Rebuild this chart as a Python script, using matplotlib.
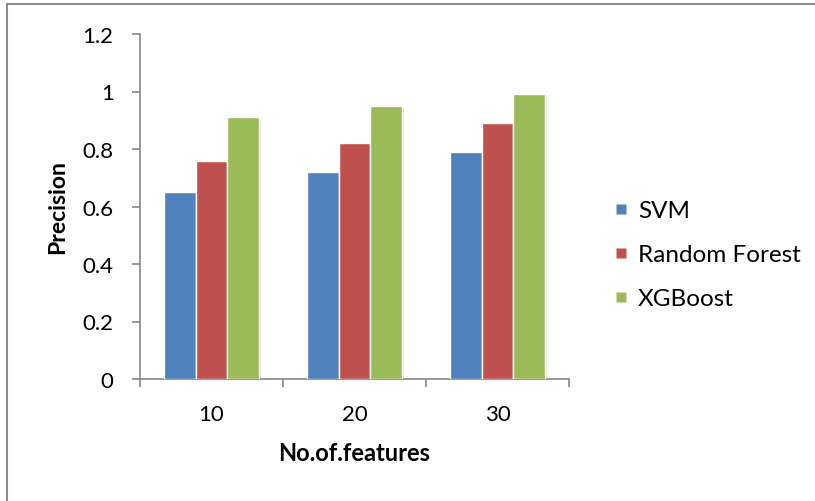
import numpy as np
import matplotlib.pyplot as plt
import matplotlib.patheffects as pe
from matplotlib.lines import Line2D

# --- Data ---
features = ["10", "20", "30"]
svm = [0.65, 0.72, 0.79]
random_forest = [0.76, 0.82, 0.89]
xgboost = [0.91, 0.95, 0.99]

series_names = ["SVM", "Random Forest", "XGBoost"]
colors = ["#4F81BD", "#C0504D", "#9BBB59"]

plt.rcParams["font.family"] = ["Lato", "DejaVu Sans"]

fig = plt.figure(figsize=(8.15, 5.02), dpi=100)
ax = fig.add_axes([140 / 815, 122 / 502, 429 / 815, 345 / 502])

# --- Grouped bars (gap width 150%) ---
x = np.arange(len(features))
width = 1 / 4.5
shadow = [pe.SimplePatchShadow(offset=(1.5, -1.5), shadow_rgbFace="#000000", alpha=0.12),
          pe.Normal()]
for i, (vals, name, c) in enumerate(zip([svm, random_forest, xgboost], series_names, colors)):
    bars = ax.bar(x + (i - 1) * width, vals, width, color=c, edgecolor="white",
                  linewidth=1.0, label=name, zorder=3)
    for b in bars:
        b.set_path_effects(shadow)

# --- Axes formatting ---
ax.set_xlim(-0.5, 2.5)
ax.set_ylim(0, 1.2)
ax.set_yticks([0, 0.2, 0.4, 0.6, 0.8, 1.0, 1.2])
ax.set_yticklabels(["0", "0.2", "0.4", "0.6", "0.8", "1", "1.2"])
ax.set_xticks(x)
ax.set_xticklabels(features)
ax.set_xticks([-0.5, 0.5, 1.5, 2.5], minor=True)
ax.tick_params(axis="x", which="major", length=0, pad=18, labelsize=16)
ax.tick_params(axis="x", which="minor", length=6, width=1.2, color="#868686", direction="out")
ax.tick_params(axis="y", length=6, width=1.2, color="#868686", pad=13, labelsize=16)

for side in ["top", "right"]:
    ax.spines[side].set_visible(False)
for side in ["left", "bottom"]:
    ax.spines[side].set_color("#868686")
    ax.spines[side].set_linewidth(1.2)

ax.set_ylabel("Precision", fontsize=16.5, fontweight="bold", labelpad=10)
ax.set_xlabel("No.of.features", fontsize=17, fontweight="bold", labelpad=12)

# --- Legend ---
handles = [Line2D([0], [0], marker="s", linestyle="none", markersize=7.5,
                  markerfacecolor=c, markeredgecolor="none") for c in colors]
fig.legend(handles, series_names, loc="upper left", bbox_to_anchor=(593 / 815, 1 - 184 / 502),
           frameon=False, fontsize=17.5, labelspacing=0.95, handletextpad=0.25,
           handlelength=0.9, borderpad=0.2)

# --- Outer frame (top and left edges) ---
fig.add_artist(Line2D([7 / 815, 1], [1 - 5 / 502, 1 - 5 / 502], color="#8c8c8c", lw=1.5))
fig.add_artist(Line2D([7 / 815, 7 / 815], [0, 1 - 5 / 502], color="#8c8c8c", lw=1.5))

fig.savefig("out.png", dpi=100)
